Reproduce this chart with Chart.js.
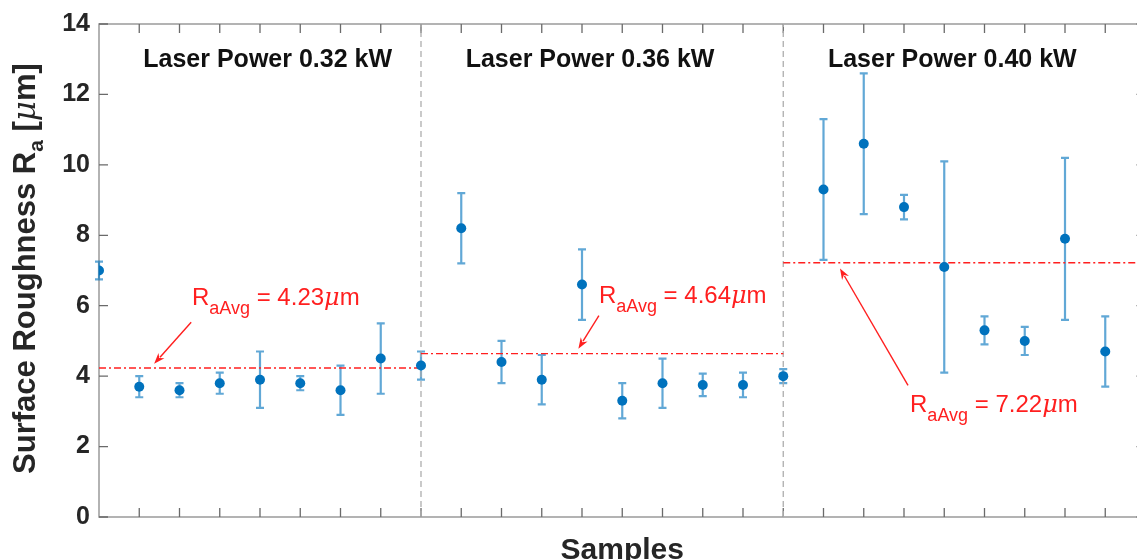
<!DOCTYPE html>
<html>
<head>
<meta charset="utf-8">
<script src="https://cdn.jsdelivr.net/npm/chart.js@4.4.1/dist/chart.umd.min.js"></script>
<style>
  html, body { margin: 0; padding: 0; background: #fff; overflow: hidden; }
  #wrap { position: absolute; left: 0; top: 0; width: 1160px; height: 560px; }
</style>
</head>
<body>
<div id="wrap"><canvas id="roughChart"></canvas></div>
<script>
// Sample data: mean Ra and its spread, one entry per sample position
const sampleIndex = [0, 1, 2, 3, 4, 5, 6, 7, 8, 9, 10, 11, 12, 13, 14, 15, 16, 17, 18, 19, 20, 21, 22, 23, 24, 25];
const raMean = [7.0, 3.7, 3.6, 3.8, 3.9, 3.8, 3.6, 4.5, 4.3, 8.2, 4.4, 3.9, 6.6, 3.3, 3.8, 3.75, 3.75, 4.0, 9.3, 10.6, 8.8, 7.1, 5.3, 5.0, 7.9, 4.7];
const raErr = [0.25, 0.3, 0.2, 0.3, 0.8, 0.2, 0.7, 1.0, 0.4, 1.0, 0.6, 0.7, 1.0, 0.5, 0.7, 0.32, 0.35, 0.2, 2.0, 2.0, 0.35, 3.0, 0.4, 0.4, 2.3, 1.0];

// Laser power groups
const groupBounds = [0, 8, 17, 26];
const groupLabels = ['Laser Power 0.32 kW', 'Laser Power 0.36 kW', 'Laser Power 0.40 kW'];
const groupAvg = [4.23, 4.64, 7.22];

const yTicks = [0, 2, 4, 6, 8, 10, 12, 14];
const xTicks = [1, 2, 3, 4, 5, 6, 7, 8, 9, 10, 11, 12, 13, 14, 15, 16, 17, 18, 19, 20, 21, 22, 23, 24, 25];

const FONT = '"Liberation Sans", Arial, Helvetica, sans-serif';
const BLUE = '#0072BD';
const BAR = 'rgba(0, 114, 189, 0.62)';
const RED = '#FF1F1F';

// where the group titles and the average callouts sit (data units)
const groupTitlePos = [{ x: 4.19, y: 12.97 }, { x: 12.2, y: 12.97 }, { x: 21.2, y: 12.97 }];
const avgCallouts = [
    { tx: 2.31, ty: 6.03, x0: 2.29, y0: 5.53, x1: 1.37, y1: 4.35 },
    { tx: 12.42, ty: 6.09, x0: 12.42, y0: 5.72, x1: 11.91, y1: 4.78 },
    { tx: 20.15, ty: 2.97, x0: 20.1, y0: 3.74, x1: 18.41, y1: 7.06 }
];

function drawRich(ctx, parts, x, y) {
    let cx = x;
    parts.forEach(p => {
        ctx.font = p.font;
        ctx.fillText(p.t, cx, y + (p.dy || 0));
        cx += ctx.measureText(p.t).width;
    });
    return cx;
}

function richWidth(ctx, parts) {
    let w = 0;
    parts.forEach(p => { ctx.font = p.font; w += ctx.measureText(p.t).width; });
    return w;
}

const framePlugin = {
    id: 'frame',
    beforeDatasetsDraw(chart) {
        const { ctx, chartArea: a, scales: { x, y } } = chart;
        ctx.save();
        // box
        ctx.strokeStyle = '#9a9a9a';
        ctx.lineWidth = 1.5;
        ctx.strokeRect(a.left, a.top, a.right - a.left, a.bottom - a.top);
        // inward ticks
        ctx.strokeStyle = '#6a6a6a';
        ctx.lineWidth = 1.3;
        ctx.beginPath();
        xTicks.forEach(t => {
            const px = x.getPixelForValue(t);
            ctx.moveTo(px, a.bottom); ctx.lineTo(px, a.bottom - 9);
            ctx.moveTo(px, a.top); ctx.lineTo(px, a.top + 9);
        });
        yTicks.forEach(t => {
            const py = y.getPixelForValue(t);
            ctx.moveTo(a.left, py); ctx.lineTo(a.left + 9, py);
            ctx.moveTo(a.right, py); ctx.lineTo(a.right - 9, py);
        });
        ctx.stroke();
        // error bars
        ctx.strokeStyle = BAR;
        ctx.lineWidth = 2.2;
        ctx.beginPath();
        raMean.forEach((v, i) => {
            const px = x.getPixelForValue(sampleIndex[i]);
            const top = y.getPixelForValue(v + raErr[i]);
            const bot = y.getPixelForValue(v - raErr[i]);
            ctx.moveTo(px, top); ctx.lineTo(px, bot);
            ctx.moveTo(px - 4, top); ctx.lineTo(px + 4, top);
            ctx.moveTo(px - 4, bot); ctx.lineTo(px + 4, bot);
        });
        ctx.stroke();
        ctx.restore();
    },
    afterDatasetsDraw(chart) {
        const { ctx, chartArea: a, scales: { x, y } } = chart;
        ctx.save();

        // group titles
        ctx.fillStyle = '#111';
        ctx.font = 'bold 25px ' + FONT;
        ctx.textAlign = 'center';
        ctx.textBaseline = 'middle';
        groupLabels.forEach((g, i) => {
            ctx.fillText(g, x.getPixelForValue(groupTitlePos[i].x), y.getPixelForValue(groupTitlePos[i].y));
        });

        // average callouts
        ctx.textAlign = 'left';
        ctx.textBaseline = 'alphabetic';
        ctx.fillStyle = RED;
        ctx.strokeStyle = RED;
        avgCallouts.forEach((c, i) => {
            drawRich(ctx, [
                { t: 'R', font: '24px ' + FONT },
                { t: 'aAvg', font: '18px ' + FONT, dy: 9 },
                { t: ' = ' + groupAvg[i].toFixed(2), font: '24px ' + FONT },
                { t: 'μ', font: 'italic 24px "DejaVu Serif", serif' },
                { t: 'm', font: '24px ' + FONT }
            ], x.getPixelForValue(c.tx), y.getPixelForValue(c.ty));

            const x0 = x.getPixelForValue(c.x0), y0 = y.getPixelForValue(c.y0);
            const x1 = x.getPixelForValue(c.x1), y1 = y.getPixelForValue(c.y1);
            const ang = Math.atan2(y1 - y0, x1 - x0);
            const hl = 11, hw = 4;
            ctx.lineWidth = 1.4;
            ctx.beginPath();
            ctx.moveTo(x0, y0);
            ctx.lineTo(x1 - Math.cos(ang) * hl * 0.8, y1 - Math.sin(ang) * hl * 0.8);
            ctx.stroke();
            ctx.beginPath();
            ctx.moveTo(x1, y1);
            ctx.lineTo(x1 - Math.cos(ang) * hl - Math.sin(ang) * hw, y1 - Math.sin(ang) * hl + Math.cos(ang) * hw);
            ctx.lineTo(x1 - Math.cos(ang) * hl * 0.7, y1 - Math.sin(ang) * hl * 0.7);
            ctx.lineTo(x1 - Math.cos(ang) * hl + Math.sin(ang) * hw, y1 - Math.sin(ang) * hl - Math.cos(ang) * hw);
            ctx.closePath();
            ctx.fill();
        });

        // y-axis title with subscript
        const parts = [
            { t: 'Surface Roughness R', font: 'bold 31px ' + FONT },
            { t: 'a', font: 'bold 21px ' + FONT, dy: 8 },
            { t: ' [', font: 'bold 31px ' + FONT },
            { t: 'μ', font: 'italic 31px "DejaVu Serif", serif' },
            { t: 'm]', font: 'bold 31px ' + FONT }
        ];
        ctx.fillStyle = '#262626';
        ctx.translate(35, (a.top + a.bottom) / 2 - 2);
        ctx.rotate(-Math.PI / 2);
        const w = richWidth(ctx, parts);
        drawRich(ctx, parts, -w / 2, 0);
        ctx.restore();
    }
};

const pointData = raMean.map((v, i) => ({ x: sampleIndex[i], y: v }));

const avgSets = groupAvg.map((v, g) => ({
    type: 'line',
    data: [{ x: groupBounds[g], y: v }, { x: groupBounds[g + 1], y: v }],
    borderColor: RED,
    borderWidth: 1.4,
    borderDash: [7, 3, 2, 3],
    pointRadius: 0,
    fill: false
}));

const dividerSets = groupBounds.slice(1, 3).map(b => ({
    type: 'line',
    data: [{ x: b, y: yTicks[0] }, { x: b, y: yTicks[yTicks.length - 1] }],
    borderColor: '#adadad',
    borderWidth: 1.3,
    borderDash: [6, 4],
    pointRadius: 0,
    fill: false
}));

const ctx = document.getElementById('roughChart').getContext('2d');
new Chart(ctx, {
    type: 'scatter',
    data: {
        datasets: [{
            data: pointData,
            backgroundColor: BLUE,
            borderWidth: 0,
            pointRadius: 5
        }].concat(avgSets, dividerSets)
    },
    options: {
        responsive: true,
        maintainAspectRatio: false,
        animation: false,
        layout: { padding: { top: 23, right: 14.5, bottom: 0, left: 0 } },
        plugins: {
            legend: { display: false },
            tooltip: { enabled: false }
        },
        scales: {
            x: {
                type: 'linear',
                min: groupBounds[0],
                max: groupBounds[groupBounds.length - 1],
                grid: { display: false, drawTicks: false },
                border: { display: false },
                ticks: { display: false },
                title: {
                    display: true,
                    text: 'Samples',
                    color: '#262626',
                    font: { family: FONT, size: 30, weight: 'bold' },
                    padding: { top: 0, bottom: -9 }
                },
                afterFit(scale) { scale.height = 43; }
            },
            y: {
                min: yTicks[0],
                max: yTicks[yTicks.length - 1],
                grid: { display: false, drawTicks: false },
                border: { display: false },
                ticks: {
                    stepSize: 2,
                    padding: 9,
                    color: '#262626',
                    font: { family: FONT, size: 25, weight: 'bold' }
                },
                afterFit(scale) { scale.width = 99; }
            }
        }
    },
    plugins: [framePlugin]
});
</script>
</body>
</html>
